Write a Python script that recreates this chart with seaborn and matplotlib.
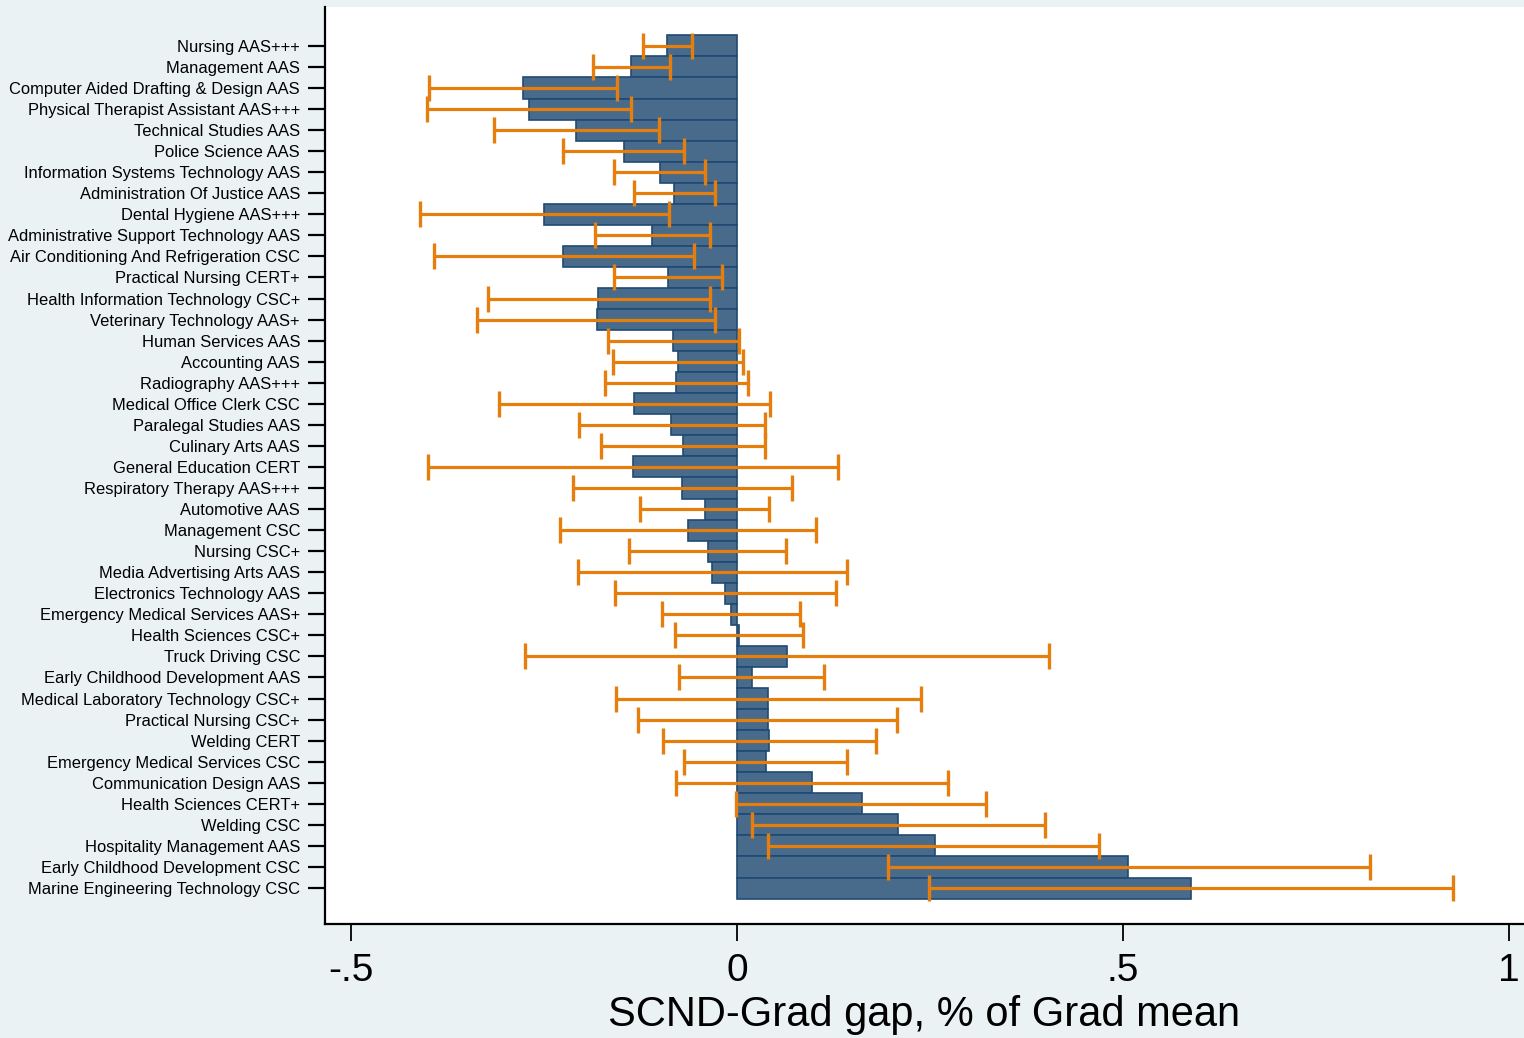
import numpy as np
import pandas as pd
import matplotlib
matplotlib.use("Agg")
import matplotlib.pyplot as plt
import seaborn as sns

# Programs, ordered top to bottom
programs = [
    "Nursing AAS+++", "Management AAS", "Computer Aided Drafting & Design AAS",
    "Physical Therapist Assistant AAS+++", "Technical Studies AAS", "Police Science AAS",
    "Information Systems Technology AAS", "Administration Of Justice AAS",
    "Dental Hygiene AAS+++", "Administrative Support Technology AAS",
    "Air Conditioning And Refrigeration CSC", "Practical Nursing CERT+",
    "Health Information Technology CSC+", "Veterinary Technology AAS+",
    "Human Services AAS", "Accounting AAS", "Radiography AAS+++",
    "Medical Office Clerk CSC", "Paralegal Studies AAS", "Culinary Arts AAS",
    "General Education CERT", "Respiratory Therapy AAS+++", "Automotive AAS",
    "Management CSC", "Nursing CSC+", "Media Advertising Arts AAS",
    "Electronics Technology AAS", "Emergency Medical Services AAS+",
    "Health Sciences CSC+", "Truck Driving CSC", "Early Childhood Development AAS",
    "Medical Laboratory Technology CSC+", "Practical Nursing CSC+", "Welding CERT",
    "Emergency Medical Services CSC", "Communication Design AAS",
    "Health Sciences CERT+", "Welding CSC", "Hospitality Management AAS",
    "Early Childhood Development CSC", "Marine Engineering Technology CSC",
]

# Gap estimate (share of graduate mean)
gap = [
    -0.091, -0.137, -0.277, -0.270, -0.208, -0.147, -0.100, -0.082, -0.250, -0.110,
    -0.225, -0.089, -0.180, -0.182, -0.083, -0.077, -0.079, -0.133, -0.085, -0.070,
    -0.135, -0.071, -0.041, -0.063, -0.038, -0.032, -0.015, -0.008, 0.003, 0.065,
    0.019, 0.040, 0.040, 0.042, 0.037, 0.097, 0.162, 0.209, 0.256, 0.507, 0.588,
]

# Confidence interval bounds
ci_low = [
    -0.122, -0.186, -0.399, -0.402, -0.315, -0.226, -0.159, -0.134, -0.411, -0.184,
    -0.393, -0.159, -0.323, -0.337, -0.167, -0.161, -0.171, -0.308, -0.205, -0.176,
    -0.400, -0.213, -0.126, -0.229, -0.140, -0.206, -0.158, -0.097, -0.081, -0.275,
    -0.075, -0.157, -0.128, -0.096, -0.069, -0.079, -0.001, 0.019, 0.040, 0.195, 0.248,
]
ci_high = [
    -0.058, -0.087, -0.155, -0.138, -0.101, -0.069, -0.042, -0.028, -0.088, -0.035,
    -0.056, -0.019, -0.035, -0.028, 0.003, 0.008, 0.014, 0.043, 0.036, 0.036,
    0.131, 0.071, 0.042, 0.102, 0.063, 0.142, 0.128, 0.082, 0.086, 0.404,
    0.113, 0.238, 0.207, 0.180, 0.143, 0.273, 0.323, 0.399, 0.469, 0.820, 0.928,
]

xticks = [-0.5, 0, 0.5, 1]
xtick_labels = ["-.5", "0", ".5", "1"]

df = pd.DataFrame({"program": programs, "gap": gap, "lo": ci_low, "hi": ci_high})

BG = "#EAF2F3"
BAR = "#486B8C"
BAR_EDGE = "#1F4A73"
ORANGE = "#E67E0E"

sns.set_theme(style="white")
plt.rcParams["font.family"] = ["Liberation Sans", "DejaVu Sans"]

fig = plt.figure(figsize=(15.24, 10.38), dpi=100, facecolor=BG)
ax = fig.add_axes([0.2133, 0.1098, 0.7867, 0.8835])
ax.set_facecolor("white")

# Horizontal grid at each program
ax.set_axisbelow(True)
ax.yaxis.grid(True, color=BG, linewidth=2.0)
ax.xaxis.grid(False)

sns.barplot(data=df, x="gap", y="program", orient="h", width=1.0,
            color=BAR, saturation=1, edgecolor=BAR_EDGE, linewidth=1.2,
            errorbar=None, ax=ax, zorder=2)

ypos = np.arange(len(df))
ax.errorbar(x=(df["lo"] + df["hi"]) / 2, y=ypos,
            xerr=(df["hi"] - df["lo"]) / 2, fmt="none",
            ecolor=ORANGE, elinewidth=2.3, capsize=9.5, capthick=2.4, zorder=3)

ax.set_xlim(-0.5337, 1.0194)
ax.set_ylim(len(df) - 1 + 1.71, -1.85)

ax.set_xticks(xticks)
ax.set_xticklabels(xtick_labels, fontsize=28)
ax.tick_params(axis="x", direction="out", length=12, width=1.3, color="black",
               pad=9, labelcolor="black", bottom=True)
ax.tick_params(axis="y", direction="out", length=12, width=1.6, color="black",
               pad=6, labelsize=11.85, labelcolor="black", left=True)

ax.set_ylabel("")
ax.set_xlabel("SCND-Grad gap, % of Grad mean", fontsize=30, color="black", labelpad=4)

for side in ["top", "right"]:
    ax.spines[side].set_visible(False)
for side in ["left", "bottom"]:
    ax.spines[side].set_color("black")
    ax.spines[side].set_linewidth(1.6)

fig.savefig("out.png", dpi=100, facecolor=BG)
